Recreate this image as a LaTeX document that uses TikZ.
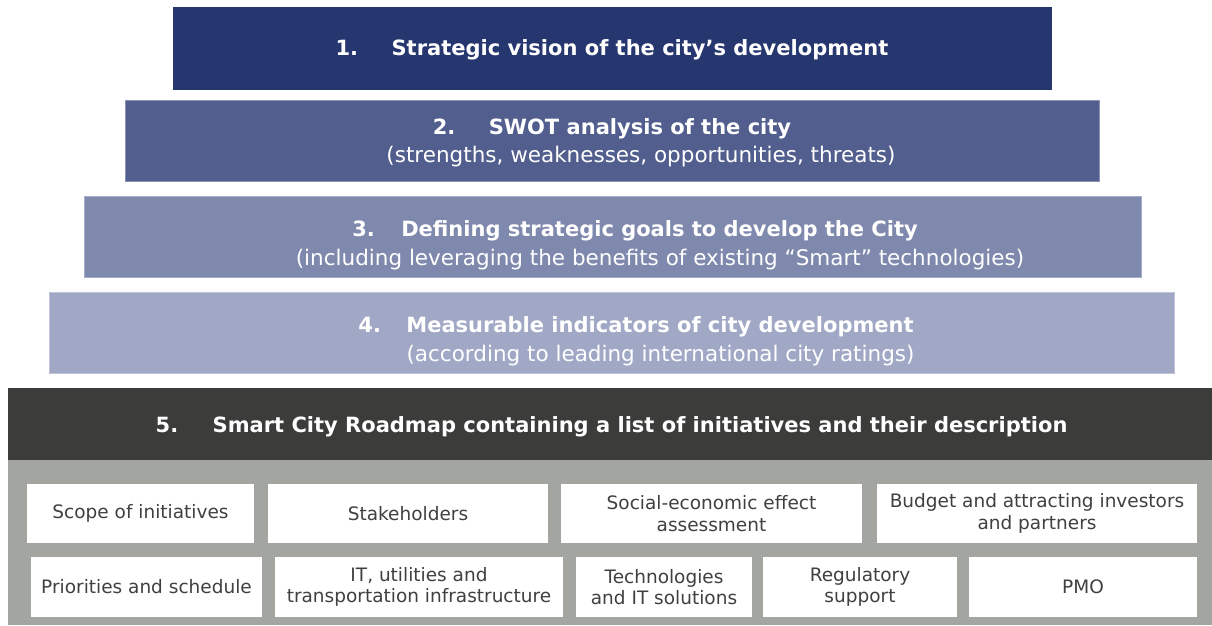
\documentclass[tikz,border=0pt]{standalone}
\usepackage{fontspec}
\setmainfont{DejaVu Sans}
\definecolor{cA}{HTML}{263770}
\definecolor{cB}{HTML}{525E8E}
\definecolor{cBb}{HTML}{8A93B5}
\definecolor{cC}{HTML}{7F88AD}
\definecolor{cCb}{HTML}{A7ADC9}
\definecolor{cD}{HTML}{A0A8C5}
\definecolor{cDb}{HTML}{BEC3D8}
\definecolor{cDark}{HTML}{3C3C3A}
\definecolor{cGrey}{HTML}{A3A5A1}
\definecolor{cTxt}{HTML}{404040}
\begin{document}
\begin{tikzpicture}[x=1pt,y=-1pt,
  lvl/.style={rectangle, inner sep=0pt, outer sep=0pt},
  ttl/.style={anchor=base, inner sep=0pt, text=white, font=\fontsize{21}{28}\selectfont\bfseries},
  sub/.style={anchor=base, inner sep=0pt, text=white, font=\fontsize{21.5}{28}\selectfont},
  cell/.style={rectangle, fill=white, inner sep=0pt, text=cTxt, align=center,
    font=\fontsize{18.5}{21.5}\selectfont}]
\useasboundingbox (0,0) rectangle (1212,625);
% level boxes
\node[lvl, fill=cA, minimum width=879pt, minimum height=83pt] (b1) at (612.5,48.5) {};
\node[lvl, fill=cB, draw=cBb, line width=1pt, minimum width=974pt, minimum height=81pt] (b2) at (612.5,141) {};
\node[lvl, fill=cC, draw=cCb, line width=1pt, minimum width=1057pt, minimum height=81pt] (b3) at (612.5,237) {};
\node[lvl, fill=cD, draw=cDb, line width=1pt, minimum width=1125pt, minimum height=81pt] (b4) at (611.5,333) {};
\node[lvl, fill=cDark, minimum width=1204pt, minimum height=72pt] (b5) at (610,424) {};
\node[lvl, fill=cGrey, minimum width=1204pt, minimum height=165pt] (g5) at (610,542.5) {};
% titles
\node[ttl] (t1) at (612,55) {\makebox[56pt][l]{1.}Strategic vision of the city’s development};
\node[ttl] (t2) at (612,134) {\makebox[56pt][l]{2.}SWOT analysis of the city};
\node[sub] (s2) at (641,162) {(strengths, weaknesses, opportunities, threats)};
\node[ttl] (t3) at (635,236) {\makebox[49pt][l]{3.}Defining strategic goals to develop the City};
\node[sub] (s3) at (660,265) {(including leveraging the benefits of existing “Smart” technologies)};
\node[ttl] (t4) at (636,332) {\makebox[48pt][l]{4.}Measurable indicators of city development};
\node[sub] (s4) at (660.5,361) {(according to leading international city ratings)};
\node[ttl] (t5) at (611.5,432) {\makebox[57pt][l]{5.}Smart City Roadmap containing a list of initiatives and their description};
% cells row 1
\node[cell, minimum width=227pt, minimum height=59pt] (c1) at (140.5,513.5) {Scope of initiatives};
\node[cell, minimum width=280pt, minimum height=59pt] (c2) at (408,513.5) {Stakeholders};
\node[cell, minimum width=301pt, minimum height=59pt] (c3) at (711.5,513.5) {Social-economic effect\\assessment};
\node[cell, minimum width=320pt, minimum height=59pt] (c4) at (1037,513.5) {Budget and attracting investors\\and partners};
% cells row 2
\node[cell, minimum width=231pt, minimum height=60pt] (c5) at (146.5,587) {Priorities and schedule};
\node[cell, minimum width=288pt, minimum height=60pt] (c6) at (419,587) {IT, utilities and\\transportation infrastructure};
\node[cell, minimum width=176pt, minimum height=60pt] (c7) at (664,587) {Technologies\\and IT solutions};
\node[cell, minimum width=194pt, minimum height=60pt] (c8) at (860,587) {Regulatory\\support};
\node[cell, minimum width=228pt, minimum height=60pt] (c9) at (1083,587) {PMO};
\end{tikzpicture}
\end{document}
